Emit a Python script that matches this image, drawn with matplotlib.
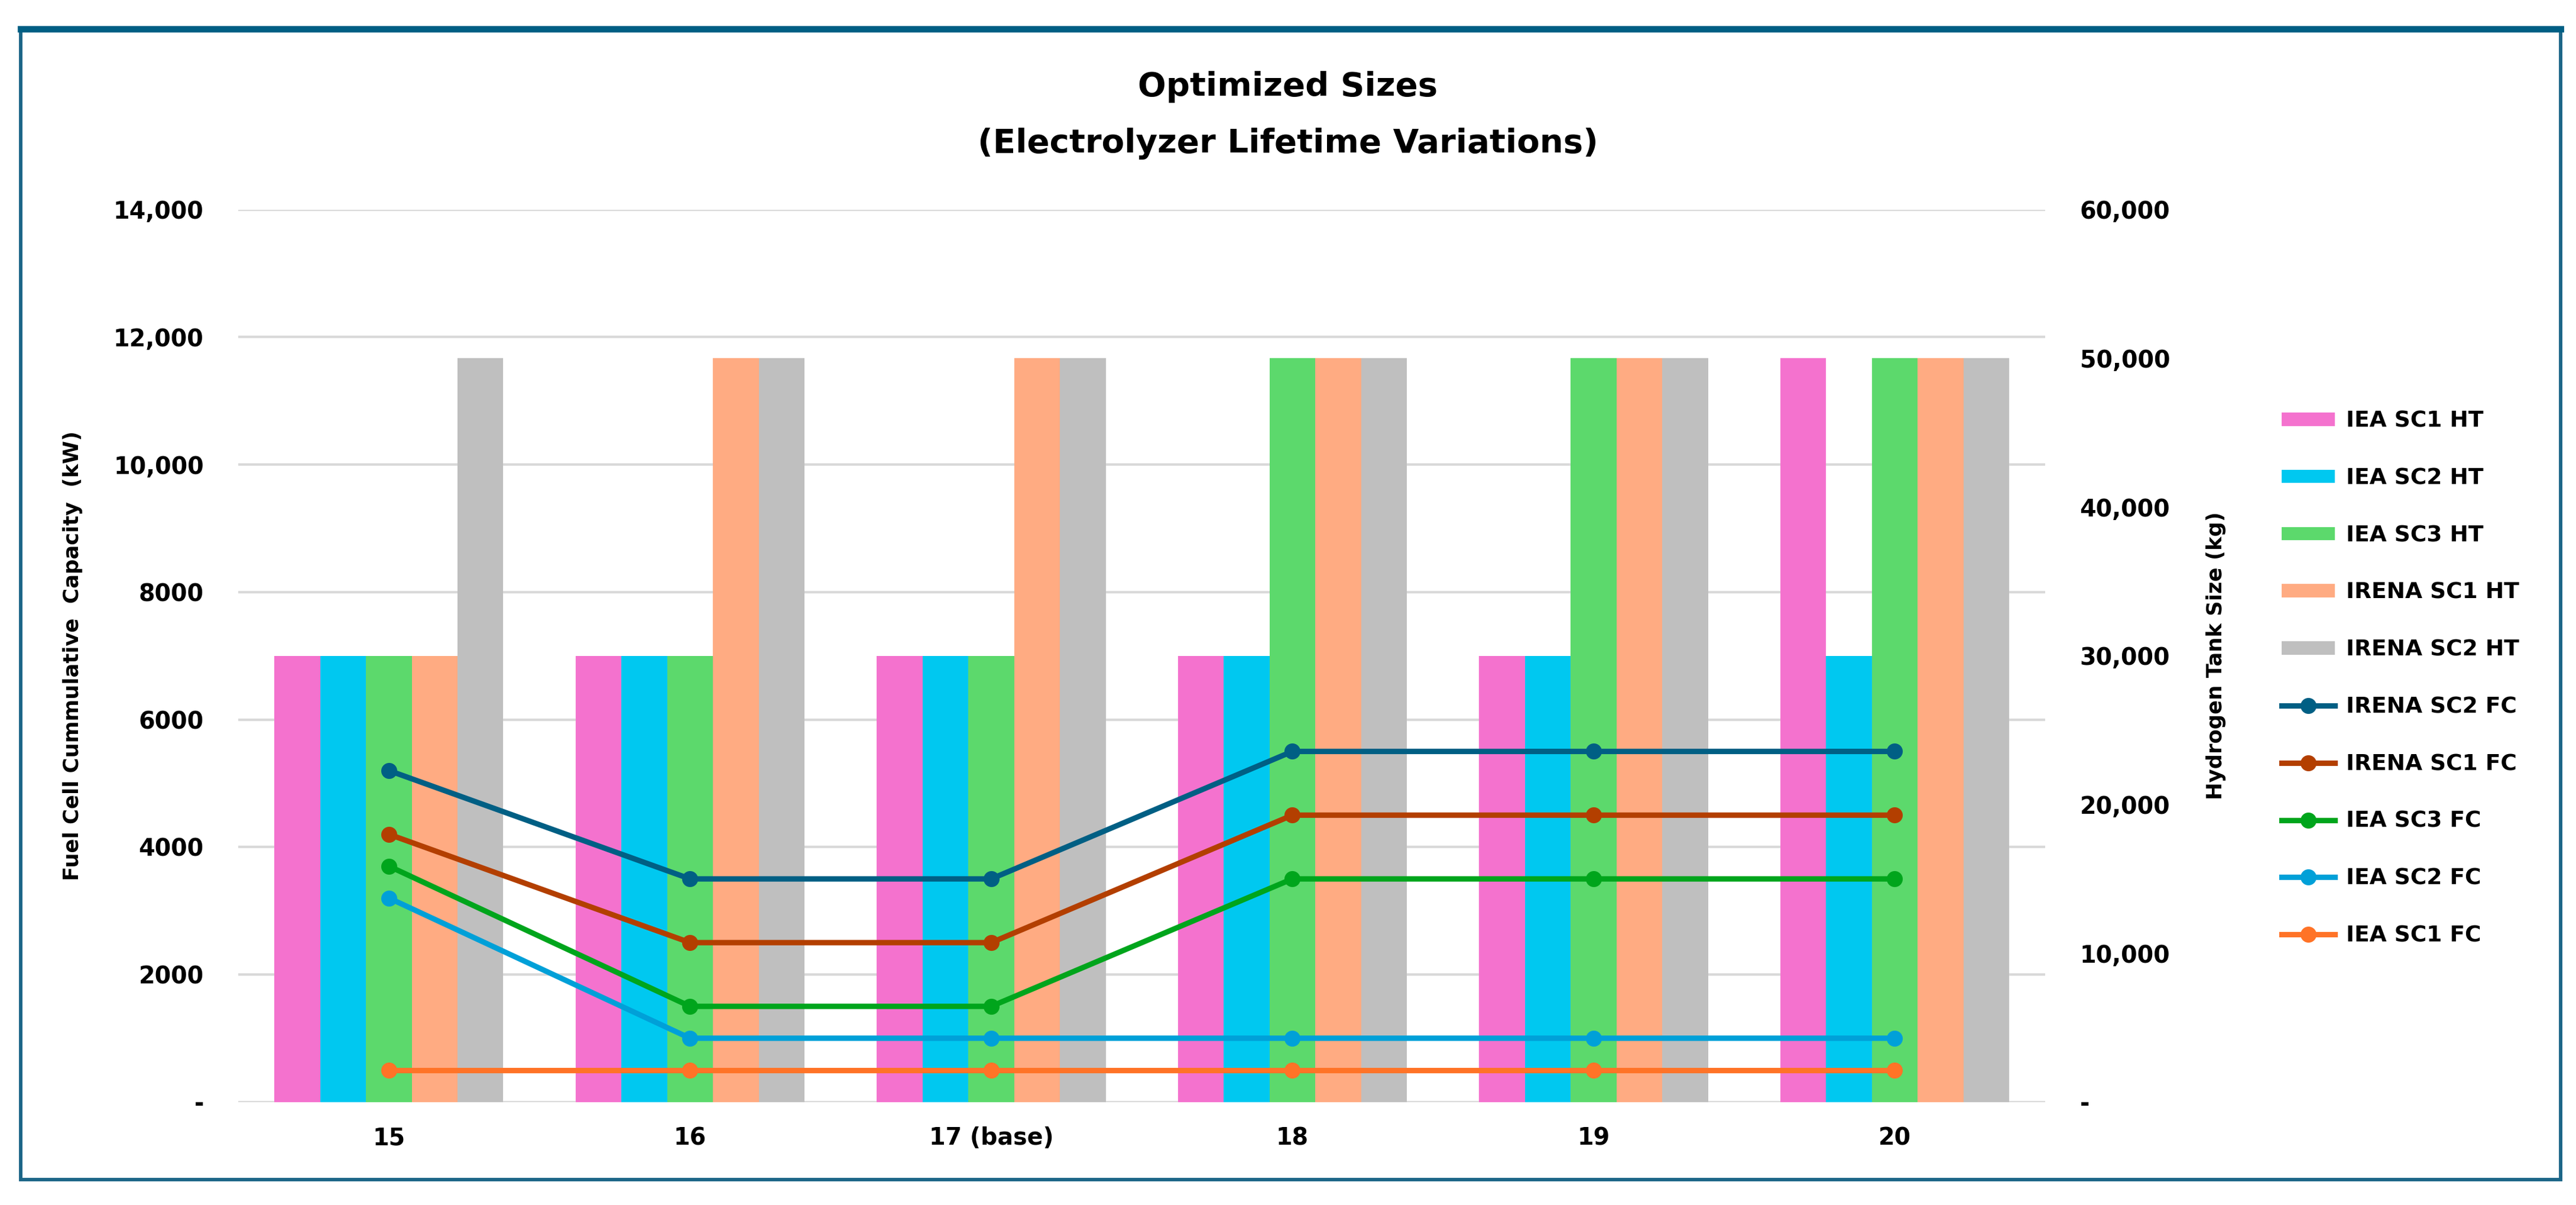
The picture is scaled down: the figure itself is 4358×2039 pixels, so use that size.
import numpy as np
import matplotlib
matplotlib.use("Agg")
import matplotlib.pyplot as plt
from matplotlib.patches import Rectangle
from matplotlib.lines import Line2D
from matplotlib import font_manager

# data
lifetimes = ["15", "16", "17 (base)", "18", "19", "20"]

# hydrogen tank sizes (kg), right axis
iea_sc1_ht = [30000, 30000, 30000, 30000, 30000, 50000]
iea_sc2_ht = [30000, 30000, 30000, 30000, 30000, 30000]
iea_sc3_ht = [30000, 30000, 30000, 50000, 50000, 50000]
irena_sc1_ht = [30000, 50000, 50000, 50000, 50000, 50000]
irena_sc2_ht = [50000, 50000, 50000, 50000, 50000, 50000]

# fuel cell cumulative capacity (kW), left axis
irena_sc2_fc = [5200, 3500, 3500, 5500, 5500, 5500]
irena_sc1_fc = [4200, 2500, 2500, 4500, 4500, 4500]
iea_sc3_fc = [3700, 1500, 1500, 3500, 3500, 3500]
iea_sc2_fc = [3200, 1000, 1000, 1000, 1000, 1000]
iea_sc1_fc = [500, 500, 500, 500, 500, 500]

left_ticks = [0, 2000, 4000, 6000, 8000, 10000, 12000, 14000]
left_labels = ["-", "2000", "4000", "6000", "8000", "10,000", "12,000", "14,000"]
right_ticks = [0, 10000, 20000, 30000, 40000, 50000, 60000]
right_labels = ["-", "10,000", "20,000", "30,000", "40,000", "50,000", "60,000"]

bar_series = [
    ("IEA SC1 HT", iea_sc1_ht, "#F472CE"),
    ("IEA SC2 HT", iea_sc2_ht, "#00C8F0"),
    ("IEA SC3 HT", iea_sc3_ht, "#5CD96C"),
    ("IRENA SC1 HT", irena_sc1_ht, "#FFAB82"),
    ("IRENA SC2 HT", irena_sc2_ht, "#BFBFBF"),
]
line_series = [
    ("IRENA SC2 FC", irena_sc2_fc, "#005F84"),
    ("IRENA SC1 FC", irena_sc1_fc, "#B33F00"),
    ("IEA SC3 FC", iea_sc3_fc, "#00A51C"),
    ("IEA SC2 FC", iea_sc2_fc, "#00A0D8"),
    ("IEA SC1 FC", iea_sc1_fc, "#FF7327"),
]

plt.rcParams['font.family'] = ['DejaVu Sans']

# narrow font for the title if it is there
names = {f.name for f in font_manager.fontManager.ttflist}
if "Liberation Sans Narrow" in names:
    title_font = ["Liberation Sans Narrow", "DejaVu Sans"]
    title_size = 16.5
else:
    title_font = ["DejaVu Sans"]
    title_size = 13.5

fig = plt.figure(figsize=(4358 / 300, 2039 / 300), dpi=300)

# outer frame
fig.patches.append(Rectangle((0.008, 0.021), 0.986, 0.955, transform=fig.transFigure,
                             fill=False, edgecolor="#1B6587", lw=1.4, zorder=0))
fig.add_artist(Line2D([0.008, 0.994], [0.976, 0.976], transform=fig.transFigure,
                      color="#005F84", lw=2.6))

# bottom layer: left scale with gridlines
ax = fig.add_axes([0.0925, 0.0855, 0.7015, 0.7405])
ax.set_xlim(-0.5, 5.5)
ax.set_ylim(0, 14000)
ax.set_yticks(left_ticks)
ax.set_yticklabels(left_labels, fontsize=9.5, fontweight="bold")
ax.grid(axis="y", color="#D9D9D9", lw=1.0)
ax.set_axisbelow(True)
for s in ax.spines.values():
    s.set_visible(False)
ax.tick_params(axis="y", length=0, pad=14)
ax.tick_params(axis="x", length=0, pad=10)
x = np.arange(len(lifetimes))
ax.set_xticks(x)
ax.set_xticklabels(lifetimes, fontsize=9.5, fontweight="bold")
ax.set_ylabel("Fuel Cell Cummulative  Capacity  (kW)", fontsize=8.5, fontweight="bold")
ax.yaxis.set_label_coords(-0.086, 0.5)

# bars on right scale
ax2 = ax.twinx()
ax2.set_ylim(0, 60000)
ax2.set_yticks(right_ticks)
ax2.set_yticklabels(right_labels, fontsize=9.5, fontweight="bold")
ax2.tick_params(axis="y", length=0, pad=14)
for s in ax2.spines.values():
    s.set_visible(False)
ax2.set_ylabel("Hydrogen Tank Size (kg)", fontsize=8.5, fontweight="bold")
ax2.yaxis.set_label_coords(1.089, 0.5)
w = 0.152
handles = []
for i, (name, vals, col) in enumerate(bar_series):
    b = ax2.bar(x + (i - 2) * w, vals, width=w, color=col, label=name, zorder=2)
    handles.append(b)

# lines on top, left scale
ax3 = ax.twinx()
ax3.set_ylim(0, 14000)
ax3.axis("off")
for name, vals, col in line_series:
    ln, = ax3.plot(x, vals, color=col, lw=2.2, marker="o", markersize=5.5, label=name)
    handles.append(ln)

ax.axhline(0, color="#D9D9D9", lw=1.2)

fig.legend(handles=handles, labels=[h.get_label() for h in handles],
           loc="center left", bbox_to_anchor=(0.878, 0.437), frameon=False,
           prop={"size": 9, "weight": "bold"}, handlelength=2.4, handleheight=0.55,
           labelspacing=1.62, handletextpad=0.5)

fig.text(0.5, 0.928, "Optimized Sizes", ha="center", va="center",
         fontsize=title_size, fontweight="bold", family=title_font)
fig.text(0.5, 0.881, "(Electrolyzer Lifetime Variations)", ha="center", va="center",
         fontsize=title_size, fontweight="bold", family=title_font)

plt.savefig("out.png", dpi=300)
